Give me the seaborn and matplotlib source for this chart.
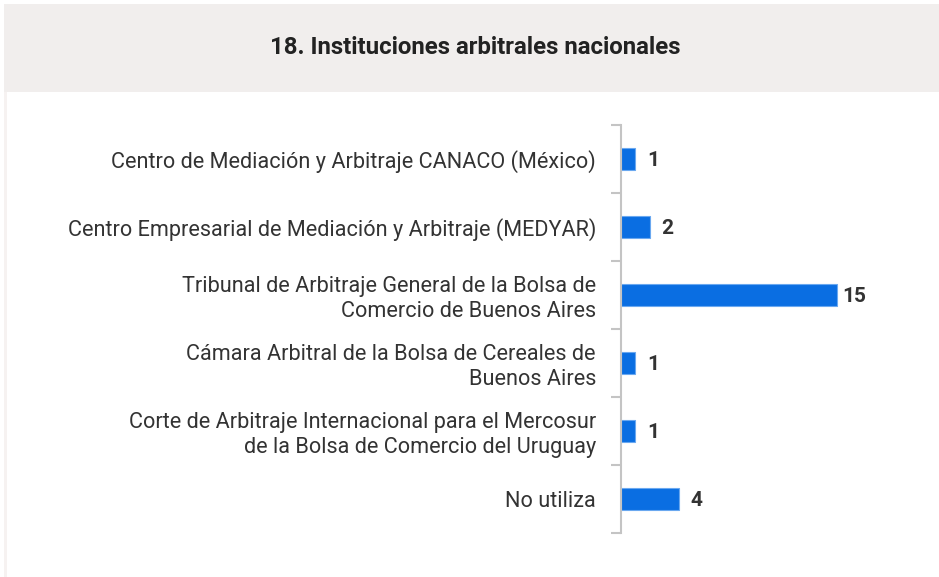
import matplotlib
matplotlib.use('Agg')
import matplotlib.pyplot as plt
from matplotlib.patches import Rectangle
import seaborn as sns
import pandas as pd
import numpy as np

sns.set_theme(style='white')
plt.rcParams['font.family'] = ['Roboto', 'DejaVu Sans']

title = '18. Instituciones arbitrales nacionales'
categories = [
    'Centro de Mediación y Arbitraje CANACO (México)',
    'Centro Empresarial de Mediación y Arbitraje (MEDYAR)',
    'Tribunal de Arbitraje General de la Bolsa de\nComercio de Buenos Aires',
    'Cámara Arbitral de la Bolsa de Cereales de\nBuenos Aires',
    'Corte de Arbitraje Internacional para el Mercosur\nde la Bolsa de Comercio del Uruguay',
    'No utiliza',
]
values = [1, 2, 15, 1, 1, 4]

df = pd.DataFrame({'cat': categories, 'n': values})

W, H = 939, 577
fig = plt.figure(figsize=(W / 100, H / 100), dpi=100)
fig.patch.set_facecolor('white')

# title band + faint left border of the card
fig.patches.append(Rectangle((4 / W, 1 - 92 / H), 1, 88 / H, transform=fig.transFigure,
                             facecolor='#f1eeed', edgecolor='none', zorder=0))
fig.patches.append(Rectangle((4 / W, 0), 3 / W, 1 - 92 / H, transform=fig.transFigure,
                             facecolor='#f6f2f1', edgecolor='none', zorder=0))
fig.text(475.5 / W, 1 - 48 / H, title, ha='center', va='center', fontsize=17.3,
         fontweight='bold', color='#222222')

ax = fig.add_axes([621 / W, 1 - 533 / H, 288 / W, 408 / H])
sns.barplot(data=df, y='cat', x='n', orient='h', color='#0a6ee2', width=0.33,
            edgecolor='#6aa8f0', linewidth=0.8, saturation=1, ax=ax)
ax.set_xlim(0, 20)
ax.set_ylim(len(categories) - 0.5, -0.5)
ax.set_xlabel(''); ax.set_ylabel('')
ax.set_xticks([])
for s in ['top', 'right', 'bottom']:
    ax.spines[s].set_visible(False)
ax.spines['left'].set_color('#c4c4c4')
ax.spines['left'].set_linewidth(1.5)

ax.set_yticks(range(len(categories)))
ax.set_yticklabels(categories, fontsize=15.6, color='#333333', linespacing=1.2)
ax.tick_params(axis='y', which='major', length=0, pad=18)
ax.set_yticks(np.arange(-0.5, len(categories), 1), minor=True)
ax.tick_params(axis='y', which='minor', length=7, width=1.5, color='#c4c4c4', left=True)

for i, v in enumerate(values):
    ax.text(v + 0.35 if v > 9 else v + 0.8, i, str(v), va='center_baseline', ha='left',
            fontsize=15, fontweight='bold', color='#333333')

fig.savefig('out.png', dpi=100)
